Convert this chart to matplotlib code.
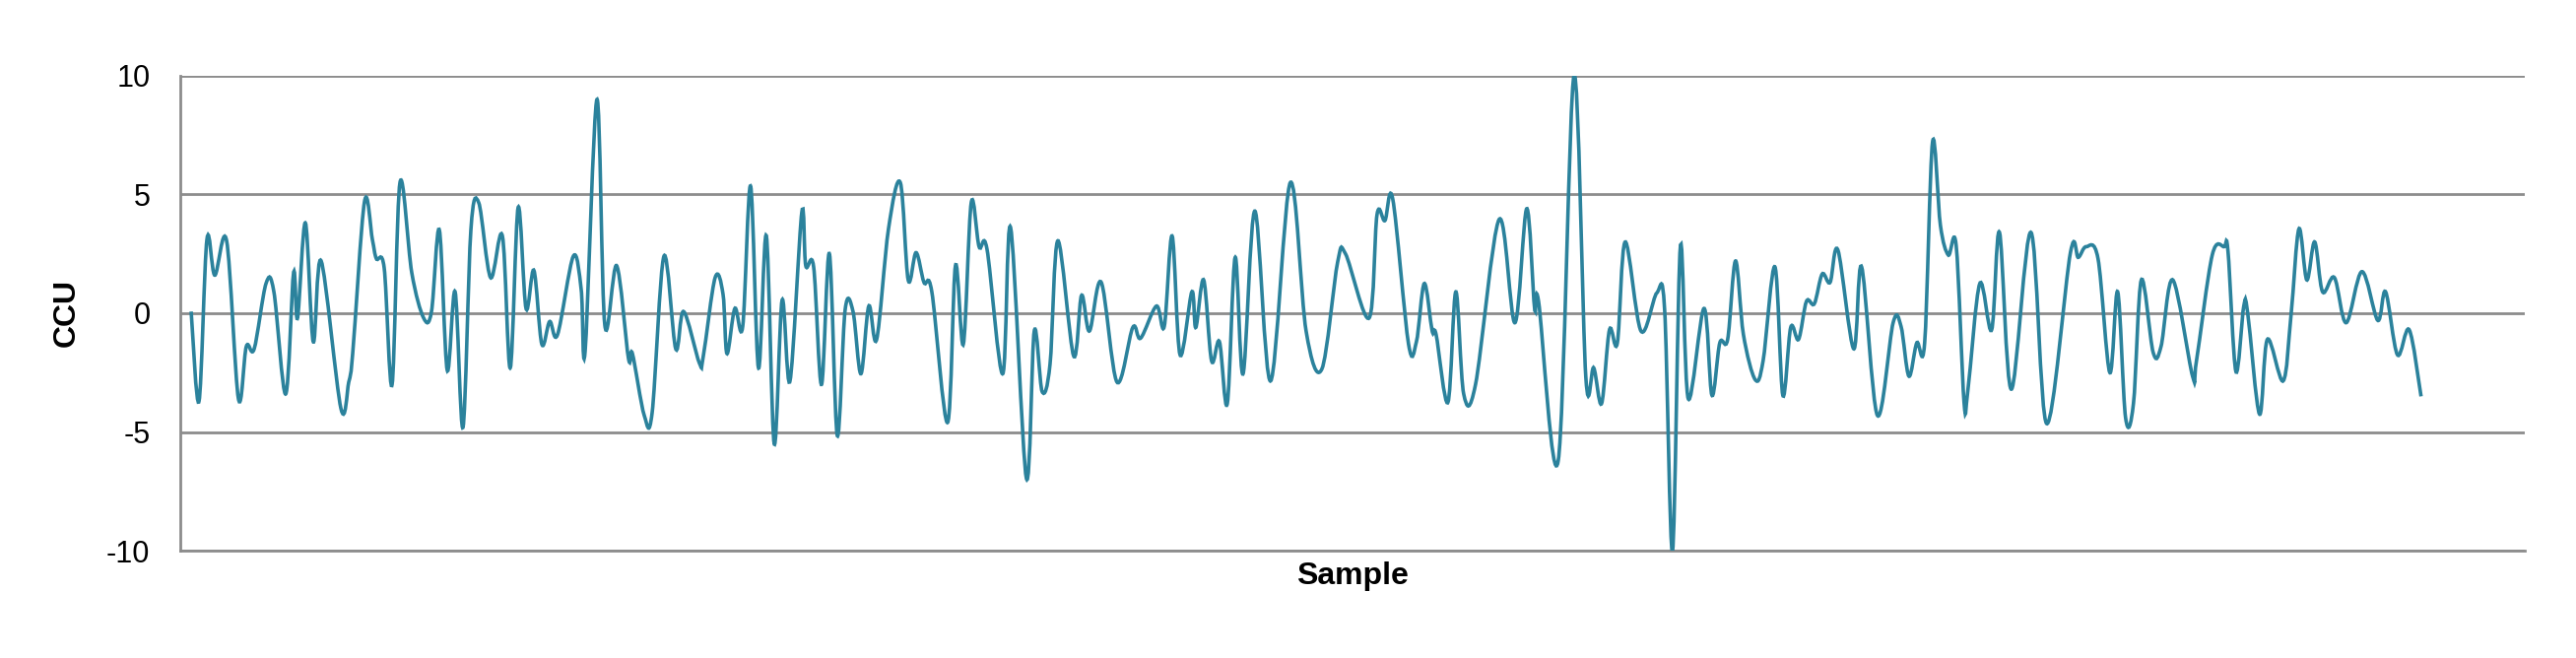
import numpy as np
import matplotlib
matplotlib.use("Agg")
import matplotlib.pyplot as plt
from matplotlib.path import Path
from matplotlib.patches import PathPatch

sample = [1,3,5,7,10,13,15,17,20,22,25,27,28,30,32,34,39,41,42,45,47,48,50,52,54,57,60,62,64,66,68,70,72,74,77,80,82,84,86,88,90,92,94,
          98,100,101,104,106,109,112,113,116,118,121,124,126,130,131,134,136,137,139,141,143,145,147,149,151,153,156,157,159,161,163,165,167,169,171,173,175,178,181,183,185,187,189,193,
          195,197,199,201,203,207,209,213,215,217,219,221,225,227,229,232,236,240,242,246,248,250,252,255,256,258,260,262,264,266,268,271,275,280,284,288,292,
          294,300,302,304,306,310,312,314,316,317,320,322,324,327,333,337,340,342,343,348,352,355,357,359,361,363,365,369,373,375,377,379,381,385,387,389,
          391,393,395,398,400,403,405,407,409,411,413,415,417,419,423,425,429,433,435,437,439,441,443,445,447,449,451,452,455,458,460,463,468,472,478,480,482,485,
          488,490,492,494,496,499,501,504,509,510,514,517,518,520,522,523,526,528,532,534,536,538,540,542,545,548,552,556,558,561,564,567]
ccu = [0.07,-3.7,3.1,1.6,3.05,-3.6,-1.4,-1.5,1.25,0.9,-3.4,1.7,-0.2,3.8,-1.2,2.2,-4.0,-2.9,-1.7,4.7,3.1,2.3,1.9,-3.0,5.5,1.7,-0.2,0.07,3.5,-2.4,0.9,-4.8,3.5,4.65,1.5,3.25,-2.3,4.45,0.2,1.8,-1.3,-0.35,-0.9,
       2.4,1.0,-1.6,9.0,-0.5,2.0,-1.9,-1.7,-4.3,-4.2,2.4,-1.5,0.07,-2.1,-1.8,1.5,0.8,-1.7,0.2,-0.55,5.35,-2.3,3.25,-5.5,0.55,-2.85,4.25,2.0,1.95,-3.0,2.5,-5.15,0.15,0.07,-2.55,0.3,-1.1,3.55,5.5,1.4,2.55,1.3,0.9,-4.6,
       2.0,-1.3,4.65,2.8,2.7,-2.55,3.6,-6.95,-0.75,-3.3,-2.15,3.05,-1.8,0.75,-0.75,1.3,-2.9,-0.6,-1.05,0.3,-0.55,3.25,-1.75,0.9,-0.6,1.4,-2.0,-1.2,-3.8,2.35,-2.55,4.3,-2.85,5.5,-0.75,-2.35,2.15,
       2.5,-0.2,4.15,3.9,4.8,-1.3,-1.2,1.25,-0.75,-0.9,-3.75,0.9,-3.4,-3.0,3.95,-0.4,4.4,0.2,0.5,-6.2,10.0,-2.7,-2.3,-3.8,-0.7,-1.25,3.0,-0.75,0.85,0.15,-10.0,2.8,-3.6,0.2,-3.45,-1.25,
       -1.1,2.2,-0.9,-2.8,-2.0,1.95,-3.45,-0.6,-1.1,0.5,0.4,1.65,1.3,2.65,-1.5,1.95,-4.3,-0.4,-0.55,-2.65,-1.25,-1.25,7.2,3.7,2.45,2.85,-3.75,-3.2,1.25,-0.7,3.4,-3.2,3.4,-4.65,2.55,2.35,2.8,2.3,
       -2.5,0.9,-4.4,-3.8,1.4,-1.65,-1.4,1.4,-2.65,-2.0,2.45,2.8,2.6,-2.45,0.3,0.0,-4.25,-1.1,-2.85,-0.07,3.55,1.4,3.0,0.9,1.5,-0.4,1.75,-0.3,0.9,-1.75,-0.7,-3.5]
yticks = [-10, -5, 0, 5, 10]

LINE = "#2b829c"
plt.rcParams['font.family'] = ['Liberation Sans', 'DejaVu Sans']
fig = plt.figure(figsize=(26.15, 6.68), dpi=100)
ax = fig.add_axes([0.070, 0.163, 0.910, 0.722])

# smooth (Catmull-Rom) rendering through the data points
x = np.asarray(sample, float); y = np.asarray(ccu, float)
verts = [(x[0], y[0])]; codes = [Path.MOVETO]
for i in range(len(x) - 1):
    p0 = (x[i-1], y[i-1]) if i > 0 else (x[i], y[i])
    p1 = (x[i], y[i]); p2 = (x[i+1], y[i+1])
    p3 = (x[i+2], y[i+2]) if i + 2 < len(x) else p2
    c1 = (p1[0] + (p2[0]-p0[0])/6, p1[1] + (p2[1]-p0[1])/6)
    c2 = (p2[0] - (p3[0]-p1[0])/6, p2[1] - (p3[1]-p1[1])/6)
    verts += [c1, c2, p2]; codes += [Path.CURVE4]*3
ax.add_patch(PathPatch(Path(verts, codes), facecolor='none', edgecolor=LINE, lw=2.6, zorder=3, clip_on=True))

ax.set_xlim(-1.75, 593.25)
ax.set_ylim(-10, 10)
ax.set_yticks(yticks)
ax.set_yticklabels([str(t) for t in yticks], fontsize=22)
ax.set_xticks([])
ax.grid(axis='y', color='#8c8c8c', lw=2)
ax.set_axisbelow(True)
for s in ['top', 'right']:
    ax.spines[s].set_visible(False)
ax.spines['left'].set_color('#8c8c8c'); ax.spines['left'].set_linewidth(2)
ax.spines['bottom'].set_color('#8c8c8c'); ax.spines['bottom'].set_linewidth(2)
ax.tick_params(axis='y', length=0, pad=22)
ax.set_ylabel('CCU', fontsize=23, fontweight='bold', labelpad=18)
ax.set_xlabel('Sample', fontsize=23, fontweight='bold', labelpad=8)
fig.savefig('out.png', dpi=100)
